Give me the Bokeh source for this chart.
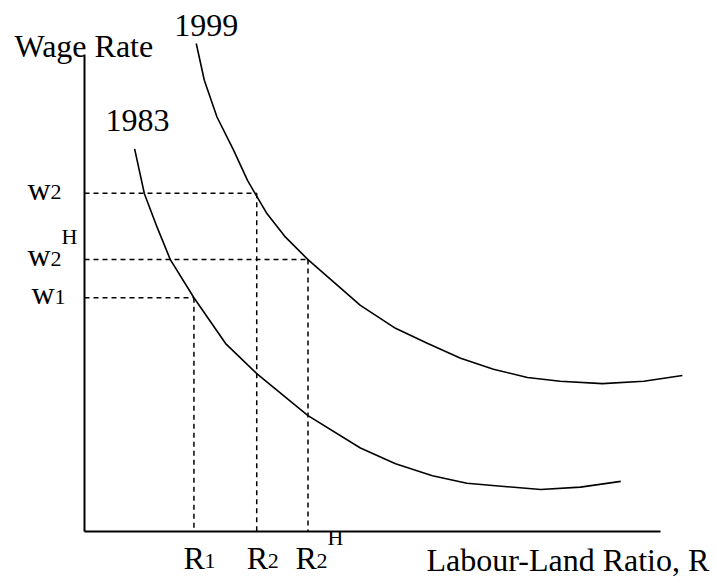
from bokeh.plotting import figure
from bokeh.models import Range1d, Label
from bokeh.embed import file_html
from bokeh.resources import INLINE

# ---- data (abstract units: axes run 0..100) ----
r_1999 = [19.4, 20.8, 23.0, 25.9, 28.3, 29.6, 31.7, 34.9, 38.8, 47.9, 54.0,
          59.6, 65.3, 71.0, 76.9, 82.6, 89.9, 97.1, 103.8]
w_1999 = [102.3, 94.6, 86.9, 79.9, 73.6, 70.9, 66.6, 61.7, 57.0, 47.4, 42.6,
          39.4, 36.3, 34.0, 32.3, 31.5, 31.0, 31.5, 32.7]
r_1983 = [8.7, 10.4, 12.6, 14.9, 19.0, 24.5, 29.9, 38.8, 47.9, 54.0, 60.4,
          66.4, 79.2, 86.1, 93.1]
w_1983 = [80.2, 70.8, 63.8, 57.0, 49.0, 39.4, 33.1, 24.3, 17.5, 14.2, 11.7,
          10.1, 8.8, 9.3, 10.5]

wage_levels = [49.0, 70.9, 57.0]        # w1, w2, w2^H
ratio_levels = [19.0, 29.9, 38.8]       # R1, R2, R2^H
wage_names = ["w", "w", "w"]
wage_subs = ["1", "2", "2"]
wage_sups = ["", "", "H"]
ratio_names = ["R", "R", "R"]
ratio_subs = ["1", "2", "2"]
ratio_sups = ["", "", "H"]
curve_names = ["1999", "1983"]
axis_max = 100
y_title = "Wage Rate"
x_title = "Labour-Land Ratio, R"

# ---- layout ----
W, H = 717, 584
OX, OY = 84, 531          # origin position on the canvas (px)
XPX, YPX = 5.76, 4.77     # px per data unit

p = figure(width=W, height=H, output_backend="svg", toolbar_location=None,
           x_range=Range1d(-OX / XPX, (W - OX) / XPX),
           y_range=Range1d(-(H - OY) / YPX, OY / YPX),
           min_border=0, title=None)
p.outline_line_color = None
p.axis.visible = False
p.grid.visible = False
p.background_fill_color = "white"
p.border_fill_color = "white"

# axes drawn as lines from the axis extent
p.line([0, 0], [0, axis_max], line_color="black", line_width=2)
p.line([0, axis_max], [0, 0], line_color="black", line_width=2)

FONT = "Liberation Serif"
BIG = "32px"
SMALL = "22px"
SHIFT = 10   # baseline correction (px, upward)

# curves
p.line(r_1999, w_1999, line_color="black", line_width=1.6)
p.line(r_1983, w_1983, line_color="black", line_width=1.6)

# dashed guides
zeros = [0] * len(wage_levels)
p.segment(x0=zeros, y0=wage_levels, x1=ratio_levels, y1=wage_levels,
          line_color="black", line_width=1.5, line_dash="5 4")
p.segment(x0=ratio_levels, y0=wage_levels, x1=ratio_levels, y1=zeros,
          line_color="black", line_width=1.5, line_dash="5 4")


def lab(x, y, text, dx, dy, size=BIG):
    p.add_layout(Label(x=x, y=y, text=text, x_offset=dx, y_offset=dy + SHIFT,
                       text_font=FONT, text_font_size=size,
                       text_baseline="alphabetic", text_align="left",
                       text_color="black"))


# axis titles
lab(0, axis_max, y_title, -70, -1)
lab(axis_max, 0, x_title, -234, -38)

# curve labels
lab(r_1999[0], w_1999[0], curve_names[0], -22, 8)
lab(r_1983[0], w_1983[0], curve_names[1], -29, 18)

# wage-level labels
w_dx = [-53, -57, -57]
for i, lvl in enumerate(wage_levels):
    lab(0, lvl, wage_names[i], w_dx[i], -5.5)
    lab(0, lvl, wage_subs[i], w_dx[i] + 23, -9, SMALL)
    if wage_sups[i]:
        lab(0, lvl, wage_sups[i], w_dx[i] + 34, 13, SMALL)

# ratio-level labels
r_dx = [-10.5, -10, -12.5]
for i, lvl in enumerate(ratio_levels):
    lab(lvl, 0, ratio_names[i], r_dx[i], -36)
    lab(lvl, 0, ratio_subs[i], r_dx[i] + 21, -39, SMALL)
    if ratio_sups[i]:
        lab(lvl, 0, ratio_sups[i], r_dx[i] + 32, -16, SMALL)

open("out.html", "w").write(file_html(p, INLINE))
